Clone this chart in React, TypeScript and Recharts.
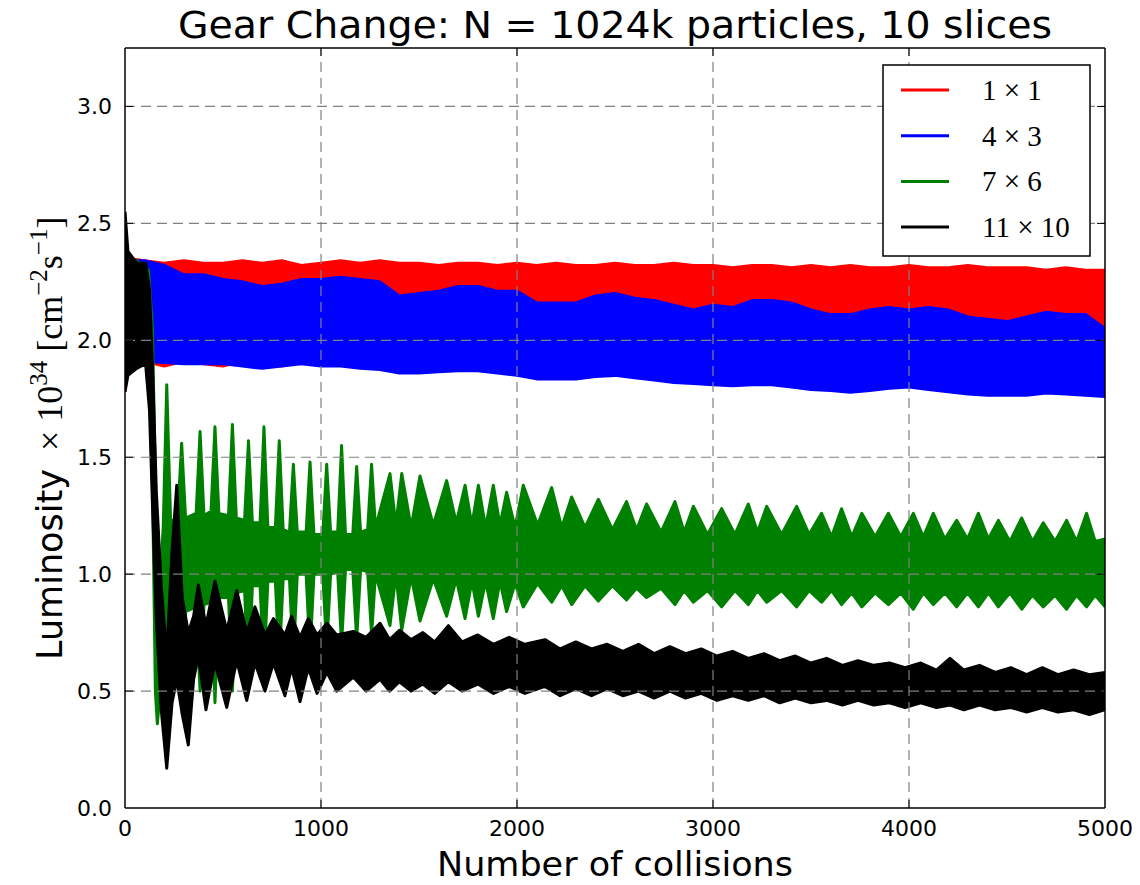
import React from 'react'
import { ComposedChart, Area, XAxis, YAxis, ReferenceLine } from 'recharts'

// collisions sampled for the two wide bands (1x1, 4x3)
const bandX = [0, 15, 100, 200, 300, 400, 500, 600, 700, 800, 900, 1000, 1100, 1200, 1300, 1400, 1500, 1600, 1700, 1800, 1900, 2000, 2100, 2200, 2300, 2400, 2500, 2600, 2700, 2800, 2900, 3000, 3100, 3200, 3300, 3400, 3500, 3600, 3700, 3800, 3900, 4000, 4100, 4200, 4300, 4400, 4500, 4600, 4700, 4800, 4900, 5000]

const redHi = [2.46, 2.35, 2.34, 2.33, 2.34, 2.33, 2.33, 2.34, 2.33, 2.34, 2.32, 2.33, 2.34, 2.33, 2.34, 2.33, 2.33, 2.32, 2.33, 2.33, 2.32, 2.33, 2.32, 2.33, 2.32, 2.32, 2.33, 2.32, 2.32, 2.33, 2.32, 2.32, 2.31, 2.32, 2.32, 2.31, 2.32, 2.31, 2.32, 2.31, 2.31, 2.32, 2.31, 2.31, 2.32, 2.31, 2.31, 2.31, 2.3, 2.31, 2.3, 2.3]
const redLo = [1.78, 1.9, 1.91, 1.89, 1.91, 1.9, 1.89, 1.91, 1.9, 1.89, 1.91, 1.9, 1.9, 1.9, 1.9, 1.9, 1.9, 1.9, 1.9, 1.9, 1.9, 1.9, 1.9, 1.9, 1.9, 1.9, 1.9, 1.9, 1.9, 1.9, 1.9, 1.9, 1.9, 1.9, 1.9, 1.9, 1.9, 1.9, 1.9, 1.9, 1.9, 1.9, 1.9, 1.9, 1.9, 1.9, 1.9, 1.9, 1.9, 1.9, 1.9, 1.9]

const blueHi = [2.4, 2.34, 2.34, 2.32, 2.28, 2.28, 2.26, 2.25, 2.23, 2.24, 2.26, 2.26, 2.27, 2.26, 2.25, 2.19, 2.2, 2.21, 2.23, 2.23, 2.21, 2.21, 2.16, 2.16, 2.16, 2.19, 2.2, 2.18, 2.17, 2.15, 2.13, 2.15, 2.14, 2.17, 2.17, 2.16, 2.13, 2.11, 2.11, 2.13, 2.14, 2.13, 2.14, 2.13, 2.1, 2.09, 2.08, 2.1, 2.12, 2.11, 2.11, 2.05]
const blueLo = [1.85, 1.9, 1.91, 1.905, 1.9, 1.9, 1.9, 1.89, 1.88, 1.89, 1.9, 1.89, 1.89, 1.88, 1.875, 1.86, 1.86, 1.865, 1.87, 1.87, 1.86, 1.85, 1.835, 1.835, 1.835, 1.845, 1.85, 1.84, 1.83, 1.82, 1.815, 1.81, 1.806, 1.81, 1.81, 1.8, 1.79, 1.785, 1.778, 1.785, 1.795, 1.8, 1.79, 1.78, 1.77, 1.765, 1.765, 1.765, 1.775, 1.77, 1.765, 1.76]

// 7x6: spikes of the slow beat and the shoulders beside them
const greenX = [0, 60, 120, 140, 155, 165, 185, 195, 213, 233, 269, 289, 309, 363, 383, 403, 439, 459, 479, 528, 548, 568, 610, 630, 650, 689, 709, 729, 767, 787, 807, 839, 859, 879, 924, 944, 964, 1009, 1029, 1049, 1085, 1105, 1125, 1162, 1182, 1202, 1238, 1258, 1278, 1352, 1382, 1412, 1460, 1505, 1573, 1641, 1690, 1735, 1770, 1803, 1840, 1879, 1913, 1947, 1990, 2032, 2105, 2177, 2228, 2279, 2347, 2415, 2487, 2559, 2610, 2661, 2735, 2806, 2853, 2900, 2972, 3044, 3112, 3180, 3227, 3274, 3350, 3427, 3490, 3554, 3605, 3656, 3708, 3759, 3827, 3895, 3958, 4022, 4073, 4124, 4183, 4243, 4298, 4354, 4405, 4456, 4515, 4575, 4630, 4685, 4745, 4804, 4855, 4906, 4950, 5000]
const greenHi = [2.36, 2.34, 2.3, 2.05, 1.4, 0.9, 1.05, 1.2, 1.81, 1.22, 1.25, 1.56, 1.24, 1.26, 1.61, 1.25, 1.27, 1.63, 1.26, 1.25, 1.64, 1.24, 1.23, 1.57, 1.22, 1.22, 1.63, 1.2, 1.2, 1.57, 1.19, 1.18, 1.47, 1.18, 1.18, 1.48, 1.17, 1.17, 1.47, 1.18, 1.18, 1.55, 1.17, 1.17, 1.46, 1.18, 1.19, 1.47, 1.2, 1.43, 1.21, 1.43, 1.2, 1.42, 1.21, 1.4, 1.22, 1.38, 1.21, 1.38, 1.2, 1.38, 1.21, 1.35, 1.2, 1.38, 1.21, 1.37, 1.2, 1.33, 1.2, 1.32, 1.19, 1.31, 1.19, 1.3, 1.18, 1.31, 1.18, 1.29, 1.17, 1.28, 1.17, 1.3, 1.18, 1.29, 1.17, 1.29, 1.17, 1.26, 1.16, 1.28, 1.16, 1.26, 1.16, 1.26, 1.16, 1.26, 1.16, 1.26, 1.15, 1.23, 1.15, 1.26, 1.15, 1.23, 1.14, 1.24, 1.14, 1.22, 1.14, 1.23, 1.14, 1.26, 1.14, 1.15]
const greenLo = [1.86, 1.9, 1.92, 1.4, 0.5, 0.36, 0.55, 0.7, 0.75, 0.8, 0.82, 0.55, 0.84, 0.86, 0.5, 0.87, 0.88, 0.45, 0.9, 0.9, 0.5, 0.92, 0.93, 0.55, 0.95, 0.95, 0.6, 0.97, 0.97, 0.62, 0.98, 0.98, 0.64, 1.0, 1.0, 0.66, 1.0, 1.0, 0.68, 1.0, 1.01, 0.7, 1.02, 1.02, 0.72, 1.02, 1.01, 0.74, 1.0, 0.78, 1.0, 0.76, 0.99, 0.8, 0.98, 0.82, 0.98, 0.81, 0.97, 0.82, 0.97, 0.81, 0.97, 0.84, 0.96, 0.86, 0.96, 0.88, 0.95, 0.87, 0.95, 0.885, 0.95, 0.89, 0.94, 0.9, 0.94, 0.87, 0.93, 0.88, 0.93, 0.86, 0.93, 0.87, 0.93, 0.88, 0.93, 0.86, 0.93, 0.88, 0.93, 0.87, 0.92, 0.86, 0.92, 0.87, 0.92, 0.85, 0.92, 0.87, 0.92, 0.86, 0.92, 0.86, 0.92, 0.86, 0.92, 0.85, 0.91, 0.86, 0.91, 0.85, 0.91, 0.86, 0.91, 0.86]

// 11x10
const blackX = [0, 15, 60, 105, 125, 140, 160, 185, 213, 240, 264, 292, 323, 350, 374, 413, 459, 519, 570, 621, 663, 714, 757, 816, 850, 893, 935, 980, 1030, 1080, 1165, 1230, 1301, 1350, 1400, 1460, 1520, 1580, 1650, 1720, 1800, 1880, 1960, 2040, 2143, 2220, 2300, 2380, 2460, 2540, 2620, 2700, 2780, 2860, 2940, 3020, 3100, 3180, 3260, 3340, 3420, 3500, 3580, 3660, 3740, 3820, 3900, 3980, 4060, 4140, 4209, 4280, 4360, 4440, 4520, 4600, 4680, 4760, 4840, 4920, 5000]
const blackHi = [2.55, 2.38, 2.33, 2.33, 2.22, 1.9, 1.35, 0.95, 0.65, 1.1, 1.38, 0.9, 0.75, 0.82, 0.955, 0.78, 0.97, 0.76, 0.93, 0.75, 0.86, 0.74, 0.81, 0.74, 0.82, 0.73, 0.81, 0.74, 0.79, 0.74, 0.755, 0.73, 0.79, 0.72, 0.76, 0.72, 0.75, 0.71, 0.78, 0.71, 0.74, 0.7, 0.73, 0.7, 0.72, 0.68, 0.71, 0.68, 0.7, 0.67, 0.7, 0.66, 0.69, 0.66, 0.68, 0.65, 0.67, 0.64, 0.66, 0.63, 0.65, 0.62, 0.64, 0.61, 0.63, 0.61, 0.62, 0.6, 0.62, 0.59, 0.64, 0.59, 0.61, 0.58, 0.6, 0.57, 0.6, 0.57, 0.59, 0.57, 0.58]
const blackLo = [1.78, 1.85, 1.88, 1.9, 1.7, 1.3, 0.8, 0.42, 0.17, 0.45, 0.55, 0.4, 0.27, 0.55, 0.65, 0.42, 0.62, 0.43, 0.63, 0.46, 0.62, 0.5, 0.62, 0.48, 0.6, 0.455, 0.6, 0.49, 0.58, 0.5, 0.56, 0.5, 0.55, 0.5, 0.54, 0.5, 0.53, 0.49, 0.54, 0.5, 0.53, 0.49, 0.52, 0.49, 0.52, 0.48, 0.51, 0.48, 0.51, 0.48, 0.5, 0.47, 0.5, 0.47, 0.49, 0.46, 0.48, 0.46, 0.48, 0.45, 0.47, 0.45, 0.46, 0.44, 0.46, 0.44, 0.45, 0.43, 0.45, 0.43, 0.44, 0.42, 0.44, 0.42, 0.43, 0.41, 0.43, 0.41, 0.42, 0.4, 0.42]

const xTicks = [0, 1000, 2000, 3000, 4000, 5000]
const yTicks = [0, 0.5, 1, 1.5, 2, 2.5, 3]
const seriesNames = ['1 \u00d7 1', '4 \u00d7 3', '7 \u00d7 6', '11 \u00d7 10']
const seriesColors = ['#ff0000', '#0000ff', '#008000', '#000000']

const X_MAX = 5000
const Y_MAX = 3.25
// inward tick length (8px) in data units
const TICK_X = (X_MAX * 8) / 980
const TICK_Y = (Y_MAX * 8) / 760

const toBand = (xs: number[], lo: number[], hi: number[]) =>
  xs.map((x, i) => ({ x, band: [lo[i], hi[i]] }))

const series = [
  toBand(bandX, redLo, redHi),
  toBand(bandX, blueLo, blueHi),
  toBand(greenX, greenLo, greenHi),
  toBand(blackX, blackLo, blackHi),
]

const SANS = 'DejaVu Sans, sans-serif'
const SERIF = 'Liberation Serif, DejaVu Serif, serif'

export default function App() {
  const gridStyle = { stroke: '#808080', strokeDasharray: '10 6', strokeWidth: 1.2 }
  const tickStyle = { stroke: '#000', strokeWidth: 1 }

  return (
    // cancel the body margin so the chart uses page pixels
    <div style={{ position: 'relative', width: 1140, height: 885, margin: -8 }}>
      <ComposedChart width={1140} height={885} margin={{ top: 48, right: 35, left: 55, bottom: 37 }}>
        <XAxis
          dataKey="x"
          type="number"
          domain={[0, X_MAX]}
          ticks={xTicks}
          allowDataOverflow
          height={40}
          axisLine={false}
          tickLine={false}
          tickSize={0}
          tickMargin={12}
          tick={{ fontSize: 22, fill: '#000', fontFamily: SANS }}
        />
        <YAxis
          type="number"
          domain={[0, Y_MAX]}
          ticks={yTicks}
          allowDataOverflow
          width={70}
          axisLine={false}
          tickLine={false}
          tickSize={0}
          tickMargin={13}
          tickFormatter={(v: number) => v.toFixed(1)}
          tick={{ fontSize: 22, fill: '#000', fontFamily: SANS }}
        />
        {series.map((d, i) => (
          <Area
            key={seriesNames[i]}
            data={d}
            dataKey="band"
            type="linear"
            stroke={seriesColors[i]}
            strokeWidth={3}
            strokeLinejoin="round"
            fill={seriesColors[i]}
            fillOpacity={1}
            dot={false}
            activeDot={false}
            isAnimationActive={false}
          />
        ))}

        {xTicks.slice(1, -1).map((t) => (
          <ReferenceLine key={'gx' + t} x={t} {...gridStyle} />
        ))}
        {yTicks.slice(1).map((t) => (
          <ReferenceLine key={'gy' + t} y={t} {...gridStyle} />
        ))}

        {xTicks.slice(1, -1).map((t) => (
          <ReferenceLine key={'tb' + t} segment={[{ x: t, y: 0 }, { x: t, y: TICK_Y }]} {...tickStyle} />
        ))}
        {xTicks.slice(1, -1).map((t) => (
          <ReferenceLine key={'tt' + t} segment={[{ x: t, y: Y_MAX }, { x: t, y: Y_MAX - TICK_Y }]} {...tickStyle} />
        ))}
        {yTicks.slice(1).map((t) => (
          <ReferenceLine key={'tl' + t} segment={[{ x: 0, y: t }, { x: TICK_X, y: t }]} {...tickStyle} />
        ))}
        {yTicks.slice(1).map((t) => (
          <ReferenceLine key={'tr' + t} segment={[{ x: X_MAX, y: t }, { x: X_MAX - TICK_X, y: t }]} {...tickStyle} />
        ))}

        <ReferenceLine x={0} stroke="#000" strokeWidth={1.5} />
        <ReferenceLine x={X_MAX} stroke="#000" strokeWidth={1.5} />
        <ReferenceLine y={0} stroke="#000" strokeWidth={1.5} />
        <ReferenceLine y={Y_MAX} stroke="#000" strokeWidth={1.5} />
      </ComposedChart>

      <svg
        width={1140}
        height={885}
        style={{ position: 'absolute', left: 0, top: 0, pointerEvents: 'none' }}
      >
        <text x={615} y={38} textAnchor="middle" fontFamily={SANS} fontSize={37} textLength={874} lengthAdjust="spacingAndGlyphs">
          Gear Change: N = 1024k particles, 10 slices
        </text>
        <text x={615} y={876} textAnchor="middle" fontFamily={SANS} fontSize={34} textLength={356} lengthAdjust="spacingAndGlyphs">
          Number of collisions
        </text>
        <g transform="translate(62,660) rotate(-90)">
          <text x={0} y={0} fontSize={36} fontFamily={SERIF}>
            <tspan fontFamily={SANS} fontSize={35}>Luminosity</tspan>
            <tspan>{'\u00a0\u00a0\u00d7\u00a010'}</tspan>
            <tspan fontSize={25} dy={-15}>34</tspan>
            <tspan dy={15}>{'\u00a0[cm'}</tspan>
            <tspan fontSize={25} dy={-15}>{'\u22122'}</tspan>
            <tspan dy={15}>s</tspan>
            <tspan fontSize={25} dy={-15}>{'\u22121'}</tspan>
            <tspan dy={15}>]</tspan>
          </text>
        </g>

        <rect x={883} y={65} width={207} height={191} fill="#fff" stroke="#000" strokeWidth={1.5} />
        {seriesNames.map((name, i) => (
          <g key={name}>
            <line x1={901} x2={949} y1={90 + i * 45.7} y2={90 + i * 45.7} stroke={seriesColors[i]} strokeWidth={3} />
            <text x={982} y={100 + i * 45.7} fontFamily={SERIF} fontSize={29}>
              {name}
            </text>
          </g>
        ))}
      </svg>
    </div>
  )
}
